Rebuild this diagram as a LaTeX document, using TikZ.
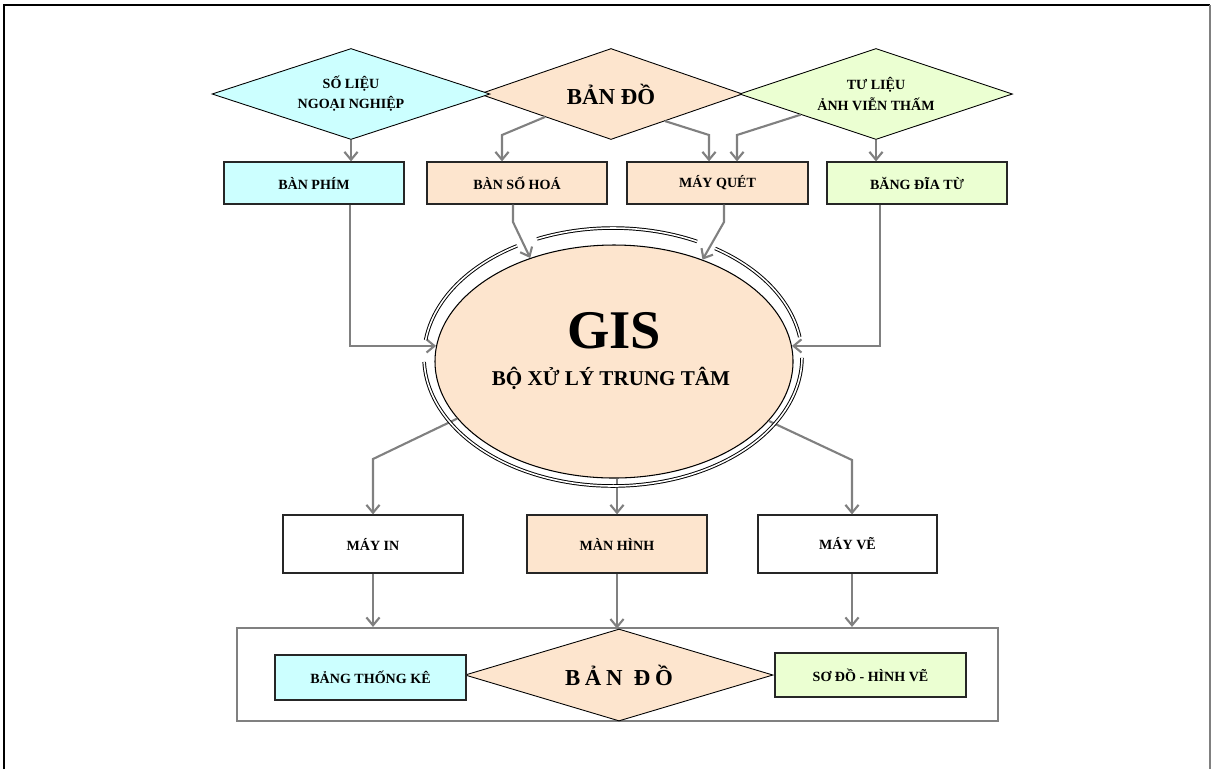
\documentclass[tikz,border=0pt]{standalone}
\usepackage{fontspec}
\setmainfont{Liberation Serif}
\usetikzlibrary{shapes.geometric,arrows.meta,calc}
\definecolor{cyanf}{RGB}{204,255,255}
\definecolor{peach}{RGB}{253,229,206}
\definecolor{greenf}{RGB}{235,255,210}
\definecolor{conng}{RGB}{128,128,128}
\newdimen\pxu \pxu=0.02cm
\begin{document}
\begin{tikzpicture}[x=0.02cm,y=-0.02cm,
 conn/.style={draw=conng,line width=1.2pt,-{Straight Barb[length=4.5pt,width=7.5pt]}},
 box/.style={rectangle,draw=black!85,line width=0.7pt,inner sep=0pt,font=\fontsize{8}{10}\selectfont\bfseries},
 dia/.style={diamond,aspect=3,draw=black,line width=0.5pt,inner sep=0pt,align=center},
 smalldia/.style={dia,font=\fontsize{8}{11.5}\selectfont\bfseries,minimum height=91\pxu},
 ring/.style={draw=black,line width=0.55pt,double=white,double distance=0.9pt}]
\useasboundingbox (0,0) rectangle (1212,769);
% frame
\draw[black,line width=1.1pt] (4,769) -- (4,5) -- (1210,5);
\draw[conng,line width=0.8pt] (1210,5) -- (1210,769);

% top diamonds
\node[dia,fill=peach,minimum width=263\pxu,minimum height=91\pxu,font=\fontsize{13}{15}\selectfont\bfseries] (bd) at (611,94) {BẢN ĐỒ};
\node[smalldia,fill=cyanf,minimum width=278\pxu] (sl) at (351,94) {SỐ LIỆU\\NGOẠI NGHIỆP};
\node[smalldia,fill=greenf,minimum width=273\pxu] (tl) at (876,94) {TƯ LIỆU\\ẢNH VIỄN THẤM};

% input boxes
\node[box,fill=cyanf,minimum width=180\pxu,minimum height=42\pxu] (bp) at (314,183) {BÀN PHÍM};
\node[box,fill=peach,minimum width=180\pxu,minimum height=42\pxu] (bsh) at (517,183) {BÀN SỐ HOÁ};
\node[box,fill=peach,minimum width=181\pxu,minimum height=42\pxu] (mq) at (717.5,183) {MÁY QUÉT};
\node[box,fill=greenf,minimum width=180\pxu,minimum height=42\pxu] (bt) at (917,183) {BĂNG ĐĨA TỪ};

% central ellipse
\node[ellipse,draw=black,line width=0.6pt,fill=peach,minimum width=358\pxu,minimum height=233\pxu,inner sep=0pt] (gis) at (614,361.5) {};
\node[anchor=base,font=\fontsize{31}{31}\selectfont\bfseries] (gist) at (614,348) {GIS};
\node[anchor=base,font=\fontsize{12}{14}\selectfont\bfseries] (gisu) at (611,385) {BỘ XỬ LÝ TRUNG TÂM};

% output boxes
\node[box,fill=white,minimum width=180\pxu,minimum height=58\pxu] (mi) at (373,544) {MÁY IN};
\node[box,fill=peach,minimum width=180\pxu,minimum height=58\pxu] (mh) at (617,544) {MÀN HÌNH};
\node[box,fill=white,minimum width=179\pxu,minimum height=58\pxu] (mv) at (847.5,544) {MÁY VẼ};

% bottom group
\node[rectangle,draw=conng,line width=1.2pt,fill=white,minimum width=761\pxu,minimum height=93\pxu,inner sep=0pt] (grp) at (617.5,674.5) {};
\node[dia,fill=peach,minimum width=308\pxu,minimum height=92\pxu,font=\fontsize{13}{15}\selectfont\bfseries] (bd2) at (619,675) {B\hspace{0.2em}Ả\hspace{0.2em}N\hspace{0.5em}Đ\hspace{0.2em}Ồ};
\node[box,fill=cyanf,minimum width=191\pxu,minimum height=45\pxu] (bk) at (370.5,677.5) {BẢNG THỐNG KÊ};
\node[box,fill=greenf,minimum width=191\pxu,minimum height=44\pxu] (sd) at (870.5,675) {SƠ ĐỒ - HÌNH VẼ};

% helper coordinates
\coordinate (k1) at (502,135);
\coordinate (k2) at (709,135);
\coordinate (k3) at (737,135);
\coordinate (k4) at (350,350);
\coordinate (k4r) at (880,350);
\coordinate (k5) at (513,222);
\coordinate (k6) at (724,222);
\coordinate (k7) at (373,459);
\coordinate (k8) at (852,460);

% connectors top
\draw[conn] (sl.south) -- (sl.south |- bp.north);
\draw[conn] (bd.south west) -- (k1) -- (bsh.north -| k1);
\draw[conn] ($(bd.south)!0.41!(bd.east)$) -- (k2) -- (mq.north -| k2);
\draw[conn] ($(tl.south)!0.55!(tl.west)$) -- (k3) -- (mq.north -| k3);
\draw[conn] (tl.south) -- (tl.south |- bt.north);

% connectors into GIS
\draw[conn] (bp.south -| k4) |- (gis.175);
\draw[conn] (bt.south -| k4r) |- (gis.5);
\draw[conn] (bsh.south -| k5) -- (k5) -- (gis.129);
\draw[conn] (mq.south -| k6) -- (k6) -- (gis.49);

% connectors out of GIS
\draw[conn] (gis.200) -- (k7) -- (mi.north);
\draw[conn] (mh.north |- gis.south) -- (mh.north);
\draw[conn] (gis.339) -- (k8) -- (mv.north -| k8);

% double ring
\draw[ring] plot[domain=-113.7:-63.6,samples=40] ({613+189*cos(\x)},{357+129*sin(\x)});
\draw[ring] plot[domain=-57.3:-8.9,samples=40] ({613+189*cos(\x)},{357+129*sin(\x)});
\draw[ring] plot[domain=0.4:177.8,samples=120] ({613+189*cos(\x)},{357+129*sin(\x)});
\draw[ring] plot[domain=187.6:239.5,samples=40] ({613+189*cos(\x)},{357+129*sin(\x)});

% connectors into bottom group
\draw[conn] (mi.south) -- (mi.south |- grp.north);
\draw[conn] (mh.south) -- (mh.south |- bd2.north);
\draw[conn] (mv.south -| k8) -- (k8 |- grp.north);
\end{tikzpicture}
\end{document}
